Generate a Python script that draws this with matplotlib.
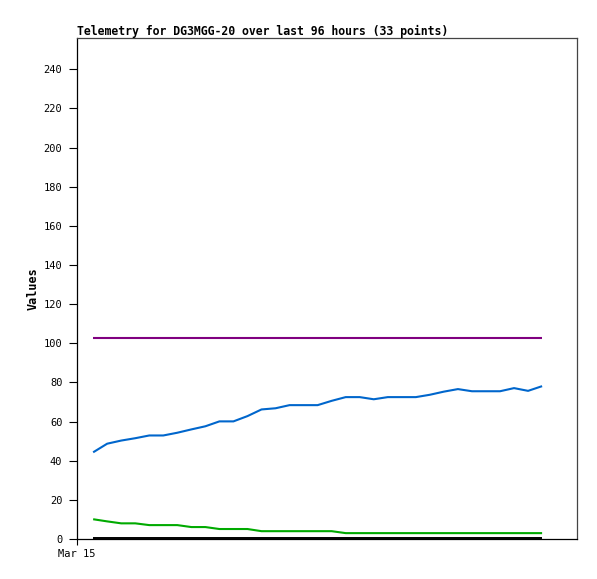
import numpy as np
import matplotlib.pyplot as plt

# Telemetry channels, 33 samples over the last 96 hours
hours = np.linspace(3.1, 89.3, 33)

blue = [44.3, 48.7, 50.3, 51.5, 52.9, 52.9, 54.3, 56.0, 57.6, 60.1, 60.1, 62.8,
        66.2, 66.8, 68.4, 68.4, 68.4, 70.6, 72.5, 72.5, 71.4, 72.5, 72.5, 72.5,
        73.7, 75.3, 76.6, 75.5, 75.5, 75.5, 77.1, 75.7, 78.1]
green = [10.1, 9.0, 8.0, 8.0, 7.1, 7.1, 7.1, 6.1, 6.1, 5.1, 5.1, 5.1,
         4.0, 4.0, 4.0, 4.0, 4.0, 4.0, 3.0, 3.0, 3.0, 3.0, 3.0, 3.0,
         3.0, 3.0, 3.0, 3.0, 3.0, 3.0, 3.0, 3.0, 3.0]
purple = [102.8] * 33
black = [0.5] * 33

xtick_pos = [0]
xtick_labels = ["Mar 15"]
yticks = list(range(0, 241, 20))

fig = plt.figure(figsize=(5.97, 5.79), dpi=100)
ax = fig.add_axes([77 / 597, 40 / 579, 500 / 597, 501 / 579])

lw = 1.5
ax.plot(hours, black, color="#000000", lw=1.4, solid_capstyle="butt", clip_on=False)
ax.plot(hours, green, color="#00aa00", lw=lw, solid_capstyle="butt")
ax.plot(hours, blue, color="#0066cc", lw=lw, solid_capstyle="butt")
ax.plot(hours, purple, color="#800080", lw=lw, solid_capstyle="butt")

ax.set_xlim(0, 96)
ax.set_ylim(0, 256)
ax.set_yticks(yticks)
ax.set_xticks(xtick_pos)
ax.set_xticklabels(xtick_labels)

mono = "DejaVu Sans Mono"
for lab in ax.get_xticklabels() + ax.get_yticklabels():
    lab.set_family(mono)
    lab.set_fontsize(7.5)
ax.tick_params(axis="y", length=5.5, width=0.8, pad=5)
ax.tick_params(axis="x", length=4.5, width=0.8, pad=3)

ax.spines["left"].set_color("black")
ax.spines["bottom"].set_color("black")
ax.spines["top"].set_color("#444444")
ax.spines["right"].set_color("#444444")
for s in ax.spines.values():
    s.set_linewidth(0.9)

ax.set_ylabel("Values", family=mono, fontweight="bold", fontsize=8.5, labelpad=3)
ax.set_title("Telemetry for DG3MGG-20 over last 96 hours (33 points)",
             family=mono, fontweight="bold", fontsize=8.3, loc="left", pad=2.5)

fig.savefig("out.png", dpi=100)
